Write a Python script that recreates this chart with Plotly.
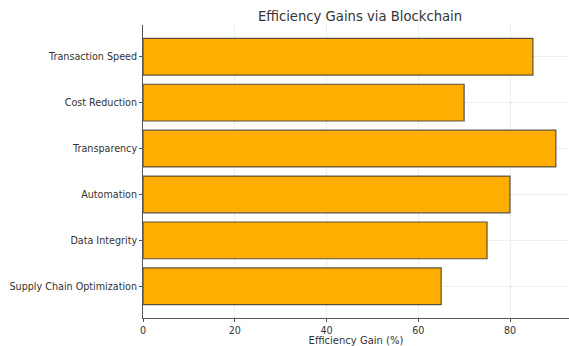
import plotly.graph_objects as go

categories = ["Transaction Speed", "Cost Reduction", "Transparency",
              "Automation", "Data Integrity", "Supply Chain Optimization"]
gains = [85, 70, 90, 80, 75, 65]
x_ticks = [0, 20, 40, 60, 80]

W, H = 569, 346
ml, mr, mt, mb = 143, 0, 25, 28

fig = go.Figure(go.Bar(
    x=gains, y=categories, orientation="h", width=0.8,
    marker=dict(color="#FFAD00", line=dict(color="rgba(50,50,50,0.8)", width=1.2)),
))

font = "DejaVu Sans, sans-serif"
grid = "rgba(195,195,195,0.55)"
fig.update_layout(
    width=W, height=H,
    margin=dict(l=ml, r=mr, t=mt, b=mb),
    paper_bgcolor="white", plot_bgcolor="white",
    showlegend=False,
    font=dict(family=font, size=10, color="#333333"),
    title=dict(text="Efficiency Gains via Blockchain",
               x=360 / W, xanchor="center", y=1 - 16 / H, yanchor="middle",
               font=dict(family=font, size=13.2, color="#333333")),
)
fig.update_xaxes(
    range=[0, (W - ml) / 4.5875], tickvals=x_ticks,
    showgrid=True, gridcolor=grid, griddash="1px,1px", gridwidth=1,
    showline=True, linecolor="#555555", linewidth=1,
    ticks="outside", ticklen=3, tickcolor="#555555",
    zeroline=False, layer="above traces",
    title=dict(text="Efficiency Gain (%)", font=dict(size=10, color="#333333"), standoff=3),
    tickfont=dict(size=9.6, color="#333333"),
)
fig.update_yaxes(
    categoryorder="array", categoryarray=categories,
    range=[5.69, -0.69],
    showgrid=True, gridcolor=grid, griddash="1px,1px", gridwidth=1,
    showline=True, linecolor="#555555", linewidth=1,
    ticks="outside", ticklen=3, tickcolor="#555555",
    zeroline=False, layer="above traces",
    tickfont=dict(size=9.6, color="#333333"),
)

fig.write_html("out.html")
